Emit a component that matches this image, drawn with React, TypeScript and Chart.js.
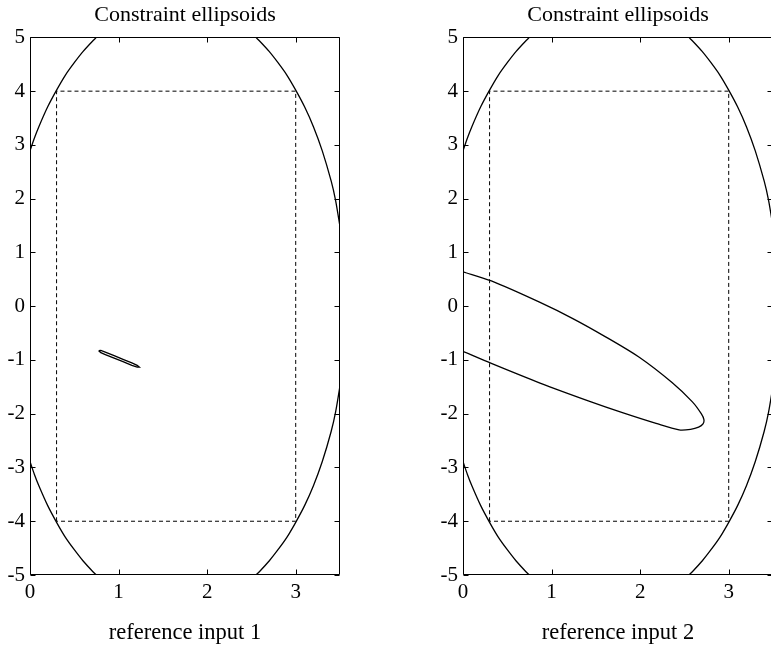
import React, { useEffect, useRef } from 'react';
import { Chart, registerables } from 'chart.js';

Chart.register(...registerables);

// ---- Data ----
const titleText = 'Constraint ellipsoids';
const xLabels = ['reference input 1', 'reference input 2'];

// Outer constraint ellipse (same in both panels), four visible arcs
const outerUpperLeftX = [0, 0.05, 0.1, 0.2, 0.3, 0.4, 0.5, 0.6, 0.7, 0.75];
const outerUpperLeftY = [2.89, 3.13, 3.34, 3.71, 4.02, 4.3, 4.53, 4.74, 4.92, 5.0];
const outerLowerLeftY = [-2.89, -3.13, -3.34, -3.71, -4.02, -4.3, -4.53, -4.74, -4.92, -5.0];
const outerUpperRightX = [2.55, 2.6, 2.7, 2.8, 2.9, 3.0, 3.1, 3.2, 3.3, 3.4, 3.45, 3.5];
const outerUpperRightY = [5.0, 4.92, 4.74, 4.53, 4.3, 4.02, 3.71, 3.34, 2.89, 2.33, 1.97, 1.48];
const outerLowerRightY = [-5.0, -4.92, -4.74, -4.53, -4.3, -4.02, -3.71, -3.34, -2.89, -2.33, -1.97, -1.48];

// Dashed box constraint
const boxX = [0.3, 0.3, 3.0, 3.0, 0.3];
const boxY = [-4, 4, 4, -4, -4];

// Inner ellipse, panel 1 (small thin one)
const inner1X = [0.775, 0.8, 0.85, 0.95, 1.05, 1.15, 1.21, 1.235, 1.21, 1.15, 1.05, 0.95, 0.85, 0.8, 0.775];
const inner1Y = [-0.827, -0.821, -0.855, -0.921, -0.988, -1.055, -1.099, -1.133, -1.135, -1.099, -1.032, -0.965, -0.899, -0.865, -0.827];

// Inner ellipse, panel 2 (large tilted one, clipped at x = 0)
const inner2X = [0, 0.32, 0.87, 1.24, 1.61, 1.99, 2.36, 2.59, 2.69, 2.72, 2.71, 2.66, 2.57, 2.44, 2.18, 1.8, 1.43, 0.87, 0.32, 0];
const inner2Y = [0.64, 0.47, 0.07, -0.23, -0.57, -0.95, -1.42, -1.78, -2.0, -2.11, -2.19, -2.25, -2.29, -2.3, -2.18, -1.98, -1.77, -1.43, -1.065, -0.84];

// Axis ranges / ticks
const xMin = 0;
const xMax = 3.5;
const yMin = -5;
const yMax = 5;
const tickStep = 1;

const FONT = 'Liberation Serif, Times New Roman, serif';

function pts(xs: number[], ys: number[]) {
  return xs.map((x, i) => ({ x, y: ys[i] }));
}

const solid = (xs: number[], ys: number[], tension = 0.3) => ({
  data: pts(xs, ys),
  showLine: true,
  borderColor: '#000',
  borderWidth: 1.3,
  pointRadius: 0,
  fill: false,
  tension,
});

const framePlugin = {
  id: 'frameTicks',
  afterDatasetsDraw(chart: any) {
    const { ctx, chartArea, scales } = chart;
    const { left, right, top, bottom } = chartArea;
    const xs = scales.x;
    const ys = scales.y;
    const tl = 5;
    ctx.save();
    ctx.strokeStyle = '#000';
    ctx.lineWidth = 1;
    ctx.beginPath();
    const L = Math.round(left) + 0.5;
    const R = Math.round(right) - 0.5;
    const T = Math.round(top) + 0.5;
    const B = Math.round(bottom) - 0.5;
    ctx.moveTo(L, T);
    ctx.lineTo(R, T);
    ctx.lineTo(R, B);
    ctx.lineTo(L, B);
    ctx.closePath();
    xs.ticks.forEach((t: any) => {
      const px = Math.round(xs.getPixelForValue(t.value)) + 0.5;
      ctx.moveTo(px, B);
      ctx.lineTo(px, B - tl);
      ctx.moveTo(px, T);
      ctx.lineTo(px, T + tl);
    });
    ys.ticks.forEach((t: any) => {
      const py = Math.round(ys.getPixelForValue(t.value)) + 0.5;
      ctx.moveTo(L, py);
      ctx.lineTo(L + tl, py);
      ctx.moveTo(R, py);
      ctx.lineTo(R - tl, py);
    });
    ctx.stroke();
    ctx.restore();
  },
};

function buildConfig(inner: { x: number[]; y: number[]; tension: number }, xlabel: string): any {
  const datasets = [
    solid(outerUpperLeftX, outerUpperLeftY),
    solid(outerUpperLeftX, outerLowerLeftY),
    solid(outerUpperRightX, outerUpperRightY),
    solid(outerUpperRightX, outerLowerRightY),
    {
      data: pts(boxX, boxY),
      showLine: true,
      borderColor: '#000',
      borderWidth: 1,
      borderDash: [4, 3],
      pointRadius: 0,
      fill: false,
      tension: 0,
    },
    solid(inner.x, inner.y, inner.tension),
  ];
  return {
    type: 'scatter',
    data: { datasets },
    options: {
      animation: false,
      responsive: false,
      devicePixelRatio: 1,
      layout: { padding: { left: 0, right: 40, top: 0, bottom: 0 } },
      plugins: {
        legend: { display: false },
        tooltip: { enabled: false },
        title: {
          display: true,
          text: titleText,
          color: '#000',
          fullSize: false,
          font: { family: FONT, size: 22, weight: 'normal' },
          padding: { top: 2, bottom: 9 },
        },
      },
      scales: {
        x: {
          type: 'linear',
          min: xMin,
          max: xMax,
          grid: { display: false, drawTicks: false },
          border: { display: false },
          ticks: {
            stepSize: tickStep,
            includeBounds: false,
            color: '#000',
            padding: 5,
            maxRotation: 0,
            font: { family: FONT, size: 21 },
          },
          title: {
            display: true,
            text: xlabel,
            color: '#000',
            font: { family: FONT, size: 22.5 },
            padding: { top: 0, bottom: 5.5 },
          },
          afterFit: (s: any) => {
            s.height = 77;
          },
        },
        y: {
          type: 'linear',
          min: yMin,
          max: yMax,
          grid: { display: false, drawTicks: false },
          border: { display: false },
          ticks: {
            stepSize: tickStep,
            color: '#000',
            padding: 5,
            font: { family: FONT, size: 21 },
          },
          afterFit: (s: any) => {
            s.width = 30;
          },
        },
      },
    },
    plugins: [framePlugin],
  };
}

function Panel({ left, inner, xlabel }: { left: number; inner: any; xlabel: string }) {
  const ref = useRef<HTMLCanvasElement | null>(null);
  useEffect(() => {
    if (!ref.current) return;
    const chart = new Chart(ref.current, buildConfig(inner, xlabel));
    return () => chart.destroy();
  }, []);
  return (
    <canvas
      ref={ref}
      width={380}
      height={652}
      style={{ position: 'absolute', left, top: 0, width: 380, height: 652 }}
    />
  );
}

export default function App() {
  return (
    <div
      style={{
        position: 'absolute',
        left: 0,
        top: 0,
        width: 771,
        height: 652,
        overflow: 'hidden',
        background: '#fff',
      }}
    >
      <Panel left={0} inner={{ x: inner1X, y: inner1Y, tension: 0 }} xlabel={xLabels[0]} />
      <Panel left={433} inner={{ x: inner2X, y: inner2Y, tension: 0.3 }} xlabel={xLabels[1]} />
    </div>
  );
}
